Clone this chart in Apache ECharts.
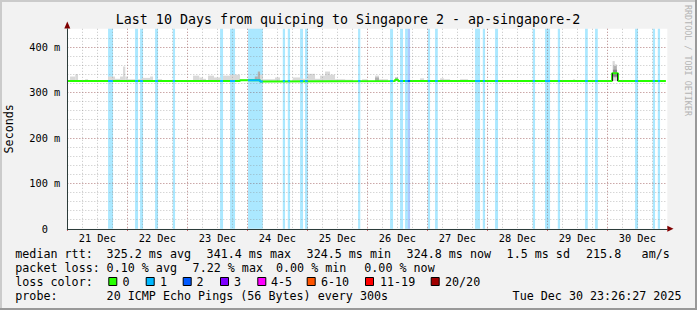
<!DOCTYPE html>
<html><head><meta charset="utf-8">
<script src="https://cdn.jsdelivr.net/npm/echarts@6/dist/echarts.min.js"></script>
<style>html,body{margin:0;padding:0;background:#f2f2f2}#c{width:697px;height:310px}</style>
</head><body><div id="c"></div>
<script>
// ---- data (x = hours since 21 Dec 00:00, y = ms) ----
const dayLabels = ['21 Dec','22 Dec','23 Dec','24 Dec','25 Dec','26 Dec','27 Dec','28 Dec','29 Dec','30 Dec'];
const yTickLabels = ['0','100 m','200 m','300 m','400 m'];
const medianPoints = [[0,325],[69.1,327],[77.1,324],[78.2,325],[131.1,328],[132.3,325],[217.9,342],[220.3,325],[239.44,325]];
// [start, end, lost pings]
const lossEvents = [[16.3,18.3,1],[27.1,28.3,1],[29.1,30.3,1],[35.1,36.3,1],[42.2,43.1,1],[61.1,62.3,1],[65.1,67.1,1],
  [72.3,78.2,1],[86.2,87.1,1],[88.2,89.1,1],[93.1,94.3,1],[95.1,96.2,1],[116.3,117.2,1],[129.1,130.3,1],[133.1,134.3,1],
  [135.1,136.2,1],[136.2,137.1,2],[144.2,145.1,1],[147.1,148.2,1],[163.1,165.1,1],[166.2,167.1,1],[171.1,172.3,1],
  [186.2,187.1,1],[191.1,193.1,1],[196.2,197.1,1],[207.1,208.2,1],[211.1,212.2,1],[227.1,228.3,1],[234.2,235.1,1],[236.2,237.1,1]];
// [start, end, low, high, shade]
const smokeSegments = [[1.1,3.2,325,335,0],[3.2,4.3,325,340,0],[7.1,8.3,325,329,0],[16.3,19.1,325,335,0],[19.1,21.1,325,330,0],
  [21.1,22.3,325,335,0],[22.3,23.2,325,357,0],[23.2,24.2,325,335,0],[24.2,27.1,325,329,0],[28.2,29.9,325,329,0],
  [29.9,33.1,325,332,0],[33.1,34.3,325,335,0],[36.2,37.9,325,329,0],[50.3,52.8,325,337,0],[52.8,54.3,325,333,0],
  [54.3,55.5,325,330,0],[56.3,58.7,325,337,0],[58.7,61.4,325,333,0],[62.3,65.1,325,337,0],[65.1,69.1,325,339,0],
  [69.1,72.2,327,329,0],[72.2,75.0,327,330,0],[75.0,76.2,327,335,1],[76.2,77.1,325,346,1],[77.1,78.2,324,339,0],
  [78.2,83.1,325,329,0],[83.1,85.1,325,333,0],[90.2,93.1,325,333,0],[93.1,96.2,325,330,0],[96.2,99.1,325,341,0],
  [99.1,101.1,325,330,0],[101.1,103.1,325,337,0],[103.1,105.1,325,346,0],[105.1,107.1,325,339,0],[107.1,111.1,325,329,0],
  [111.1,114.3,325,328,0],[117.9,119.9,325,329,0],[123.1,124.7,325,337,0],[123.1,124.7,325,333,1],[124.7,128.3,325,329,0],
  [131.1,132.3,325,333,1],[141.1,142.7,325,331,0],[149.1,150.7,325,331,0],[150.7,153.1,325,329,0],[157.1,160.3,325,329,0],
  [202.3,203.1,325,329,0],[218.1,219.0,325,369,0],[219.0,219.8,325,362,0],[218.4,219.8,333,358,1],[218.3,219.9,335,350,2]];
const smokeEdges = [[217.9,218.3,325,342],[219.9,220.3,325,342]];
const statLine1 = [['median rtt:',16],['325.2 ms avg',107.3],['341.4 ms max',207.3],['324.5 ms min',307.3],['324.8 ms now',407.3],['1.5 ms sd',507.3],['215.8',586.7],['am/s',642.3]];
const statLine2 = [['packet loss:',16],['0.10 % avg',107.3],['7.22 % max',193.3],['0.00 % min',276.7],['0.00 % now',365]];
const lossLegend = [['0','#26ff00'],['1','#00b8ff'],['2','#0059ff'],['3','#7e00ff'],['4-5','#ff00ff'],['6-10','#ff5500'],['11-19','#ff0000'],['20/20','#a10000']];
const probeText = '20 ICMP Echo Pings (56 Bytes) every 300s';
const dateText = 'Tue Dec 30 23:26:27 2025';

// ---- styles / layout ----
const MONO = '"DejaVu Sans Mono", monospace';
const lossColors = {1:'#00b8ff', 2:'#0059ff'};
const bandColors = {1:'rgba(0,184,255,0.33)', 2:'rgba(0,89,255,0.32)'};
const shades = ['#d9d9d9','#b0b0b0','#888888'];
const legBoxX = [108.3,145.7,182.7,220,257.3,306.7,365,430.7];
const legTxtX = [123.3,160.7,197.3,234.7,271.7,321.7,380.7,445.7];

function medianAt(h){ let v = medianPoints[0][1]; for (const p of medianPoints){ if (p[0] <= h) v = p[1]; } return v; }

const overlay = {1:[], 2:[]};
lossEvents.forEach(([s,e,l]) => {
  const arr = overlay[l];
  arr.push([s, medianAt(s)]);
  medianPoints.forEach(p => { if (p[0] > s && p[0] < e) arr.push([p[0], p[1]]); });
  arr.push([e, medianAt(e - 0.001)]);
  arr.push(['-','-']);
});

const graphics = [];
function txt(t, x, y, size, extra){
  graphics.push(Object.assign({type:'text', x:x, y:y, silent:true, style:{text:t, font:size+'px '+MONO, fill:'#000', textAlign:'left', textVerticalAlign:'middle', align:'left', verticalAlign:'middle'}}, extra||{}));
}
// frame
graphics.push({type:'rect', shape:{x:0,y:0,width:697,height:2}, style:{fill:'#cbcbcb'}, silent:true});
graphics.push({type:'rect', shape:{x:0,y:0,width:2,height:310}, style:{fill:'#cbcbcb'}, silent:true});
graphics.push({type:'rect', shape:{x:0,y:308,width:697,height:2}, style:{fill:'#999999'}, silent:true});
graphics.push({type:'rect', shape:{x:695,y:0,width:2,height:310}, style:{fill:'#999999'}, silent:true});
// title
graphics.push({type:'text', x:348, y:19.5, silent:true, style:{text:'Last 10 Days from quicping to Singapore 2 - ap-singapore-2', font:'13.3px '+MONO, fill:'#000', textAlign:'center', textVerticalAlign:'middle', align:'center', verticalAlign:'middle'}});
// watermark
graphics.push({type:'text', x:688, y:5, rotation:-Math.PI/2, silent:true, style:{text:'RRDTOOL / TOBI OETIKER', font:'8.4px '+MONO, fill:'#b4b4b4', textAlign:'left', textVerticalAlign:'middle', align:'left', verticalAlign:'middle'}});
// arrows
graphics.push({type:'polygon', shape:{points:[[67.3,21.5],[64.3,28.5],[70.3,28.5]]}, style:{fill:'#7f0000'}, silent:true});
graphics.push({type:'polygon', shape:{points:[[673.5,228.8],[667.3,225.8],[667.3,231.8]]}, style:{fill:'#7f0000'}, silent:true});
// legend lines
statLine1.forEach(([t,x]) => txt(t, x-0.7, 254.3, 11.7));
statLine2.forEach(([t,x]) => txt(t, x-0.7, 268.3, 11.7));
txt('loss color:', 15.3, 282, 11.7);
lossLegend.forEach(([t,c],i) => {
  graphics.push({type:'rect', shape:{x:legBoxX[i]+0.5, y:277.5, width:8, height:8}, style:{fill:c, stroke:'#000', lineWidth:1}, silent:true});
  txt(t, legTxtX[i]-0.7, 282, 11.7);
});
txt('probe:', 15.3, 296, 11.7);
txt(probeText, 106.6, 296, 11.7);
txt(dateText, 512.6, 296, 11.7);

const minorGrid = {show:true, lineStyle:{color:'rgba(140,140,140,0.5)', width:1, type:[1,2]}, showMaxLine:false};
const majorGrid = {show:true, lineStyle:{color:'rgba(210,60,60,0.5)', width:1, type:[1,2]}, showMinLine:false, showMaxLine:false};
const axisLineStyle = {show:true, onZero:false, lineStyle:{color:'#2c3c3a', width:1}};

const chart = echarts.init(document.getElementById('c'), null, {renderer:'svg'});
chart.setOption({
  animation:false,
  backgroundColor:'#f2f2f2',
  grid:{left:67.3, top:28.8, width:600, height:200, show:true, backgroundColor:'#ffffff', borderWidth:0, containLabel:false, outerBoundsMode:'none'},
  xAxis:[
    {type:'value', position:'bottom', min:0, max:240, interval:6, splitLine:minorGrid, axisLine:axisLineStyle, axisTick:{show:false}, axisLabel:{show:false}, z:5},
    {type:'value', position:'bottom', min:0, max:240, interval:24, splitLine:majorGrid, axisLine:{show:false}, axisTick:{show:true, length:2, lineStyle:{color:'#c04040'}}, axisLabel:{show:false}},
    {type:'value', position:'bottom', min:0, max:240, interval:12, splitLine:{show:false}, axisLine:{show:false}, axisTick:{show:false},
      axisLabel:{show:true, margin:4, fontFamily:MONO, fontSize:10.3, color:'#000', showMinLabel:true, showMaxLabel:true,
        formatter:v => (v % 24 === 12) ? dayLabels[(v-12)/24] : ''}}
  ],
  yAxis:[
    {type:'value', position:'left', min:0, max:440, interval:20, splitLine:minorGrid, axisLine:axisLineStyle, axisTick:{show:false}, axisLabel:{show:false},
      name:'Seconds', nameLocation:'middle', nameGap:52, nameRotate:90, nameTextStyle:{fontFamily:MONO, fontSize:11.7, color:'#000'}, z:5},
    {type:'value', position:'left', min:0, max:440, interval:100, splitLine:majorGrid, axisLine:{show:false}, axisTick:{show:false},
      axisLabel:{show:true, margin:7, fontFamily:MONO, fontSize:10.3, color:'#000', align:'right',
        formatter:v => { if (v % 100 !== 0) return ''; const t = yTickLabels[v/100]; return t === '0' ? '0\u00a0\u00a0' : t; }}}
  ],
  series:[
    {type:'line', name:'lossBands', data:[], z:1, silent:true,
      markArea:{silent:true, data: lossEvents.map(([s,e,l]) => [{xAxis:s, itemStyle:{color:bandColors[l]}}, {xAxis:e}])}},
    {type:'custom', name:'smoke', z:2, silent:true, encode:{x:[0,1], y:[2,3]}, data:smokeSegments,
      renderItem:(params, api) => {
        const p1 = api.coord([api.value(0), api.value(3)]);
        const p2 = api.coord([api.value(1), api.value(2)]);
        return {type:'rect', shape:{x:p1[0], y:p1[1], width:p2[0]-p1[0], height:p2[1]-p1[1]}, style:{fill:shades[api.value(4)]}};
      }},
    {type:'line', name:'median', z:3, step:'end', showSymbol:false, silent:true, data:medianPoints, lineStyle:{color:'#26ff00', width:2}, itemStyle:{color:'#26ff00'}},
    {type:'line', name:'loss1', z:4, step:'end', showSymbol:false, silent:true, connectNulls:false, data:overlay[1], lineStyle:{color:lossColors[1], width:2}},
    {type:'line', name:'loss2', z:4, step:'end', showSymbol:false, silent:true, connectNulls:false, data:overlay[2], lineStyle:{color:lossColors[2], width:2}},
    {type:'custom', name:'smokeEdges', z:5, silent:true, encode:{x:[0,1], y:[2,3]}, data:smokeEdges,
      renderItem:(params, api) => {
        const p1 = api.coord([api.value(0), api.value(3)]);
        const p2 = api.coord([api.value(1), api.value(2)]);
        return {type:'rect', shape:{x:p1[0], y:p1[1], width:p2[0]-p1[0], height:p2[1]-p1[1]}, style:{fill:'#1a1a1a'}};
      }}
  ],
  graphic:{elements:graphics}
});
</script></body></html>
